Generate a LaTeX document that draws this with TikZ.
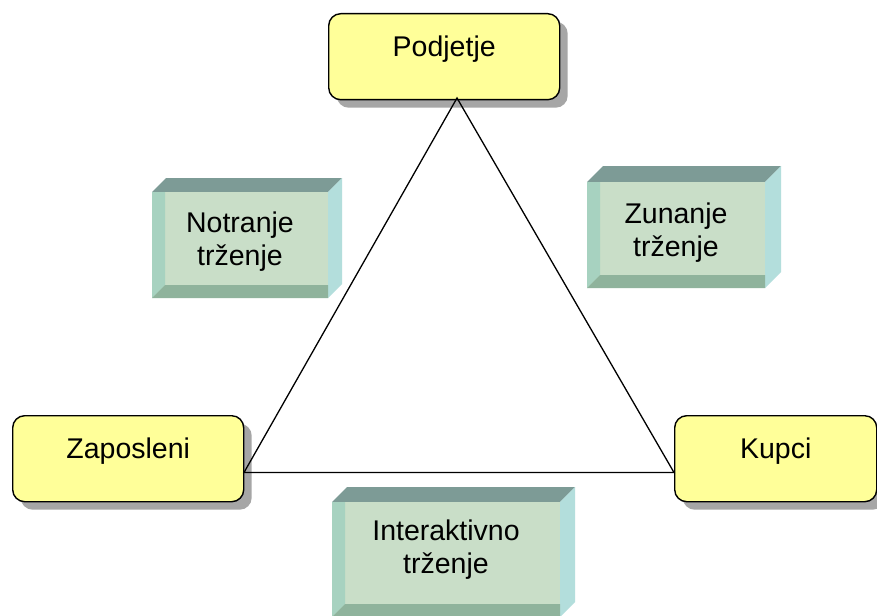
\documentclass[tikz,border=0pt]{standalone}
\usepackage{fontspec}
\setmainfont{Liberation Sans}
\usetikzlibrary{shadows}
\definecolor{boxyellow}{HTML}{FFFF99}
\definecolor{bvtop}{HTML}{7D9B96}
\definecolor{bvright}{HTML}{B3DEDC}
\definecolor{bvfront}{HTML}{C9DEC8}
\definecolor{bvleft}{HTML}{A7D2C0}
\definecolor{bvbottom}{HTML}{8FB39C}
\tikzset{
  ybox/.style={draw=black, line width=1.4pt, fill=boxyellow, rounded corners=12pt,
    inner xsep=0pt, inner ysep=0pt, text height=42.5pt, text depth=43.5pt,
    font=\fontsize{28.5}{32}\selectfont,
    drop shadow={shadow xshift=8pt, shadow yshift=-8pt, fill=black!35, opacity=1}},
  btext/.style={align=center, inner sep=0pt, font=\fontsize{28.5}{33}\selectfont},
  tri/.style={draw=black, line width=1.3pt}
}
% name x1 y1 x2 y2 depth text textcentre-y
\newcommand\bevbox[8]{%
  \fill[bvtop] (#2,#3) -- (#2+#6,#3-#6) -- (#4+#6,#3-#6) -- (#4,#3) -- cycle;
  \fill[bvright] (#4,#3) -- (#4+#6,#3-#6) -- (#4+#6,#5-#6) -- (#4,#5) -- cycle;
  \fill[bvfront] (#2,#3) rectangle (#4,#5);
  \fill[bvleft] (#2,#3) -- (#2+13,#3) -- (#2+13,#5-13) -- (#2,#5) -- cycle;
  \fill[bvbottom] (#2,#5) -- (#2+13,#5-13) -- (#4,#5-13) -- (#4,#5) -- cycle;
  \node[btext] (#1) at ({(#2+#4)/2},#8) {#7};
}
\begin{document}
\begin{tikzpicture}[x=1pt,y=-1pt]
\clip (0,0) rectangle (877,615);
\fill[white] (0,0) rectangle (877,615);

\node[ybox, minimum width=231pt, anchor=north west] (P) at (328,13) {Podjetje};
\node[ybox, minimum width=231pt, anchor=north west] (Z) at (12,415) {Zaposleni};
\node[ybox, minimum width=202pt, anchor=north west] (K) at (674,415) {Kupci};

\coordinate (A) at (457,98);
\coordinate (L) at (244,472.5);
\coordinate (R) at (674,472.5);
\draw[tri] (A) -- (L) -- (R) -- cycle;

\bevbox{N}{152}{192}{328}{298}{14}{Notranje\\trženje}{242}
\bevbox{U}{587}{182}{765}{288}{16}{Zunanje\\trženje}{233}
\bevbox{I}{332}{502}{560}{617}{15}{Interaktivno\\trženje}{550}
\end{tikzpicture}
\end{document}
